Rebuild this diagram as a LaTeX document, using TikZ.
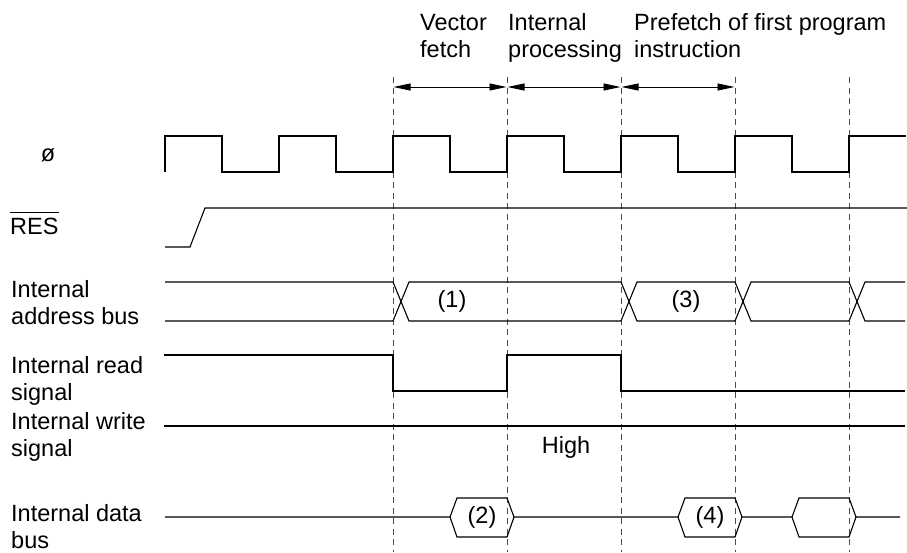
\documentclass[tikz,border=0pt]{standalone}
\usepackage{fontspec}
\setmainfont{Liberation Sans}
\usetikzlibrary{arrows.meta}
\begin{document}
\begin{tikzpicture}[x=1pt,y=-1pt,
  sig/.style={line width=1.1pt,line join=miter,line cap=butt},
  guide/.style={line width=0.8pt,draw=black!70,dash pattern=on 6pt off 4.5pt},
  span/.style={line width=0.9pt,{Triangle[length=17pt,width=7pt]}-{Triangle[length=17pt,width=7pt]},shorten <=0.5pt,shorten >=0.5pt},
  lbl/.style={anchor=base west,inner sep=0pt,align=left,font=\fontsize{23.5}{27}\selectfont},
  val/.style={inner sep=0pt,font=\fontsize{23.5}{27}\selectfont}]
\useasboundingbox (0,0) rectangle (907,552);
% guide lines
\foreach \n/\x in {g1/393,g2/507,g3/621,g4/735,g5/849}{
  \coordinate (\n t) at (\x,77);
  \coordinate (\n a) at (\x,87);
  \coordinate (\n b) at (\x,552);
  \draw[guide] (\n t) -- (\n b);
}
% phase arrows
\draw[span] (g1a) -- (g2a);
\draw[span] (g2a) -- (g3a);
\draw[span] (g3a) -- (g4a);
% top labels (anchor = baseline of last line)
\node[lbl] (vf) at (420,57) {Vector\\fetch};
\node[lbl] (ip) at (508,57) {Internal\\processing};
\node[lbl] (pf) at (634,57) {Prefetch of first program\\instruction};
% left labels
\node[val] (phi) at (48,155) {ø};
\node[lbl] (res) at (10,234) {RES};
\draw[line width=1pt] ([yshift=4.5pt]res.north west) -- ([yshift=4.5pt]res.north east);
\node[lbl] (iab) at (11,324) {Internal\\address bus};
\node[lbl] (ird) at (11,400) {Internal read\\signal};
\node[lbl] (iwr) at (11,456) {Internal write\\signal};
\node[lbl] (idb) at (11,548) {Internal data\\bus};
% clock
\draw[sig] (165,172) |- (222,136) |- (279,172) |- (336,136) |- (393,172) |- (450,136)
  |- (507,172) |- (564,136) |- (621,172) |- (678,136) |- (735,172) |- (792,136)
  |- (849,172) |- (906,136);
% reset
\draw[sig] (165,247) -- (190,247) -- (205,208) -- (907,208);
% address bus
\draw[sig] (165,282) -- (393,282) -- (409,321) -- (621,321) -- (637,282) -- (735,282)
  -- (751,321) -- (849,321) -- (865,282) -- (905,282);
\draw[sig] (165,321) -- (393,321) -- (409,282) -- (621,282) -- (637,321) -- (735,321)
  -- (751,282) -- (849,282) -- (865,321) -- (905,321);
\node[val] (a1) at (452,301) {(1)};
\node[val] (a3) at (686,301) {(3)};
% read
\draw[sig] (164,355) -- (393,355) -- (393,391) -- (507,391) -- (507,355) -- (621,355)
  -- (621,391) -- (905,391);
% write
\draw[sig] (164,426) -- (905,426);
\node[val,anchor=base] (hi) at (566,453) {High};
% data bus
\draw[sig] (165,517) -- (450,517) -- (457,498) -- (507,498) -- (514,517) -- (678,517)
  -- (685,498) -- (735,498) -- (742,517) -- (792,517) -- (799,498) -- (849,498)
  -- (856,517) -- (900,517);
\draw[sig] (450,517) -- (457,537) -- (507,537) -- (514,517);
\draw[sig] (678,517) -- (685,537) -- (735,537) -- (742,517);
\draw[sig] (792,517) -- (799,537) -- (849,537) -- (856,517);
\node[val] (d2) at (482,517) {(2)};
\node[val] (d4) at (710,517) {(4)};
\end{tikzpicture}
\end{document}
